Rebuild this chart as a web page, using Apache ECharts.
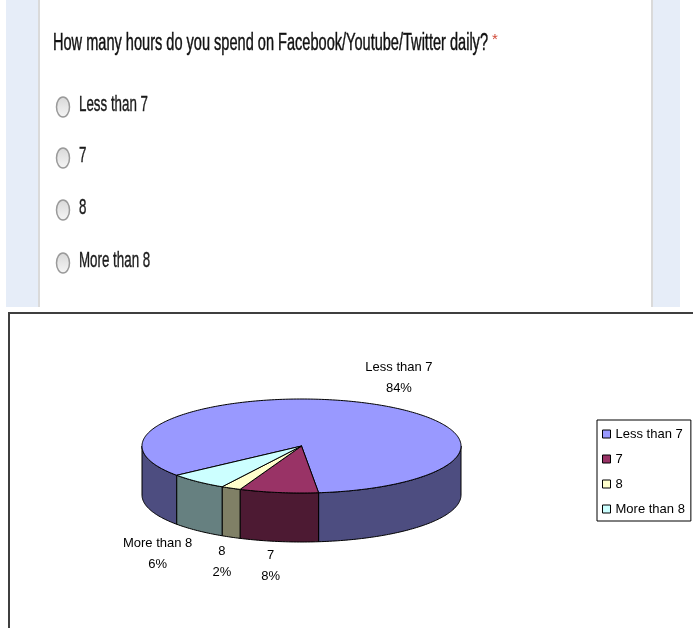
<!DOCTYPE html>
<html>
<head>
<meta charset="utf-8">
<script src="https://cdn.jsdelivr.net/npm/echarts@6/dist/echarts.min.js"></script>
<style>
  html, body { margin: 0; padding: 0; background: #fff; }
  #chart { width: 693px; height: 628px; }
</style>
</head>
<body>
<div id="chart"></div>
<script>
// Survey question and answer choices
const question = 'How many hours do you spend on Facebook/Youtube/Twitter daily?';
const categories = ['Less than 7', '7', '8', 'More than 8'];
// Share of respondents per answer, in percent
const shares = [84, 8, 2, 6];

// Slice colours (top face and darker side wall)
const topColors = ['#9999FF', '#993366', '#FFFFCC', '#CCFFFF'];
const sideColors = ['#4D4D80', '#4D1A33', '#808066', '#668080'];

// Tilted pie geometry (pixels, degrees measured clockwise on screen)
const PIE = { cx: 301.5, cy: 446, rx: 159.5, ry: 47, depth: 49, start: 141.45 };
// Label shift from the rim point at each slice's middle angle
const labelShift = [[36, -25], [-8, 24.5], [-9, 24.3], [-40, 23.2]];

const FONT = 'Liberation Sans';
const total = shares.reduce((a, b) => a + b, 0);

function measure(text, size, weight) {
  const ctx = document.createElement('canvas').getContext('2d');
  ctx.font = (weight || 'normal') + ' ' + size + 'px "' + FONT + '"';
  return ctx.measureText(text).width;
}

function rim(deg, dy) {
  const r = deg * Math.PI / 180;
  return [PIE.cx + PIE.rx * Math.cos(r), PIE.cy + PIE.ry * Math.sin(r) + (dy || 0)];
}

function arc(a0, a1, dy) {
  const pts = [];
  const n = Math.max(2, Math.ceil(Math.abs(a1 - a0)));
  for (let k = 0; k <= n; k++) pts.push(rim(a0 + (a1 - a0) * k / n, dy));
  return pts;
}

// Portions of [a0, a1] that face the viewer (lower half of the ellipse)
function frontParts(a0, a1) {
  const parts = [];
  for (let base = -360; base <= 720; base += 360) {
    const lo = Math.max(a0, base), hi = Math.min(a1, base + 180);
    if (hi > lo) parts.push([lo, hi]);
  }
  return parts;
}

function sliceRenderer(i) {
  return function (params, api) {
    const before = shares.slice(0, i).reduce((a, b) => a + b, 0);
    const a0 = PIE.start + before / total * 360;
    const a1 = a0 + api.value(0) / total * 360;
    const children = [];
    frontParts(a0, a1).forEach(([lo, hi]) => {
      const pts = arc(lo, hi, 0).concat(arc(hi, lo, PIE.depth));
      children.push({
        type: 'polygon', z2: 1,
        shape: { points: pts },
        style: { fill: sideColors[i], stroke: '#000', lineWidth: 1 }
      });
    });
    children.push({
      type: 'polygon', z2: 2,
      shape: { points: [[PIE.cx, PIE.cy]].concat(arc(a0, a1, 0)) },
      style: { fill: topColors[i], stroke: '#000', lineWidth: 1, lineJoin: 'round' }
    });
    const mid = (a0 + a1) / 2;
    const front = Math.sin(mid * Math.PI / 180) > 0;
    const p = rim(mid, front ? PIE.depth : 0);
    children.push({
      type: 'text', z2: 3,
      x: p[0] + labelShift[i][0], y: p[1] + labelShift[i][1],
      style: {
        text: categories[i] + '\n' + api.value(0) + '%',
        align: 'center', verticalAlign: 'middle',
        fontFamily: FONT, fontSize: 13, lineHeight: 21, fill: '#000'
      }
    });
    return { type: 'group', children };
  };
}

// Page chrome of the survey form above the chart
const graphics = [
  { type: 'rect', shape: { x: 6, y: 0, width: 32, height: 307 }, style: { fill: '#E6EDF8' }, silent: true },
  { type: 'rect', shape: { x: 38, y: 0, width: 2, height: 307 }, style: { fill: '#DADADA' }, silent: true },
  { type: 'rect', shape: { x: 651, y: 0, width: 2, height: 307 }, style: { fill: '#DADADA' }, silent: true },
  { type: 'rect', shape: { x: 653, y: 0, width: 27, height: 307 }, style: { fill: '#E6EDF8' }, silent: true },
  // frame of the chart area
  { type: 'rect', shape: { x: 9, y: 313, width: 720, height: 340 },
    style: { fill: 'none', stroke: '#3F3F3F', lineWidth: 2 }, silent: true }
];

const qSize = 23;
const qScale = 435 / measure(question, qSize, 'normal');
graphics.push({
  type: 'text', x: 53, y: 44, scaleX: qScale, silent: true,
  style: { text: question, fontFamily: FONT, fontSize: qSize, fill: '#111',
           stroke: '#111', lineWidth: 0.45,
           align: 'left', verticalAlign: 'middle' }
});
graphics.push({
  type: 'text', x: 495, y: 40, silent: true,
  style: { text: '*', fontFamily: FONT, fontSize: 15, fill: '#D14836',
           align: 'center', verticalAlign: 'middle' }
});

const oSize = 22;
const oScale = 69 / measure(categories[0], oSize, 'normal');
const optionY = [105, 156, 208, 261];
categories.forEach((c, k) => {
  graphics.push({
    type: 'ellipse', silent: true,
    shape: { cx: 63, cy: optionY[k] + 2, rx: 6.5, ry: 10 },
    style: {
      fill: new echarts.graphic.LinearGradient(0, 0, 0, 1, [
        { offset: 0, color: '#D8D8D8' }, { offset: 1, color: '#F6F6F6' }
      ]),
      stroke: '#9A9A9A', lineWidth: 1.5
    }
  });
  graphics.push({
    type: 'text', x: 79, y: optionY[k], scaleX: oScale, silent: true,
    style: { text: c, fontFamily: FONT, fontSize: oSize, fill: '#1A1A1A',
             stroke: '#1A1A1A', lineWidth: 0.4,
             align: 'left', verticalAlign: 'middle' }
  });
});

const chart = echarts.init(document.getElementById('chart'), null, { renderer: 'canvas' });
chart.setOption({
  animation: false,
  backgroundColor: '#fff',
  graphic: graphics,
  legend: {
    orient: 'vertical',
    left: 597, top: 420,
    padding: [7, 6, 5, 5],
    itemGap: 11,
    itemWidth: 8, itemHeight: 8,
    icon: 'rect',
    selectedMode: false,
    borderColor: '#000', borderWidth: 1,
    itemStyle: { borderColor: '#000', borderWidth: 1 },
    textStyle: { fontFamily: FONT, fontSize: 13, lineHeight: 14, color: '#000' },
    data: categories
  },
  series: categories.map((name, i) => ({
    type: 'custom',
    name: name,
    coordinateSystem: 'none',
    itemStyle: { color: topColors[i] },
    data: [shares[i]],
    renderItem: sliceRenderer(i)
  }))
});
</script>
</body>
</html>
